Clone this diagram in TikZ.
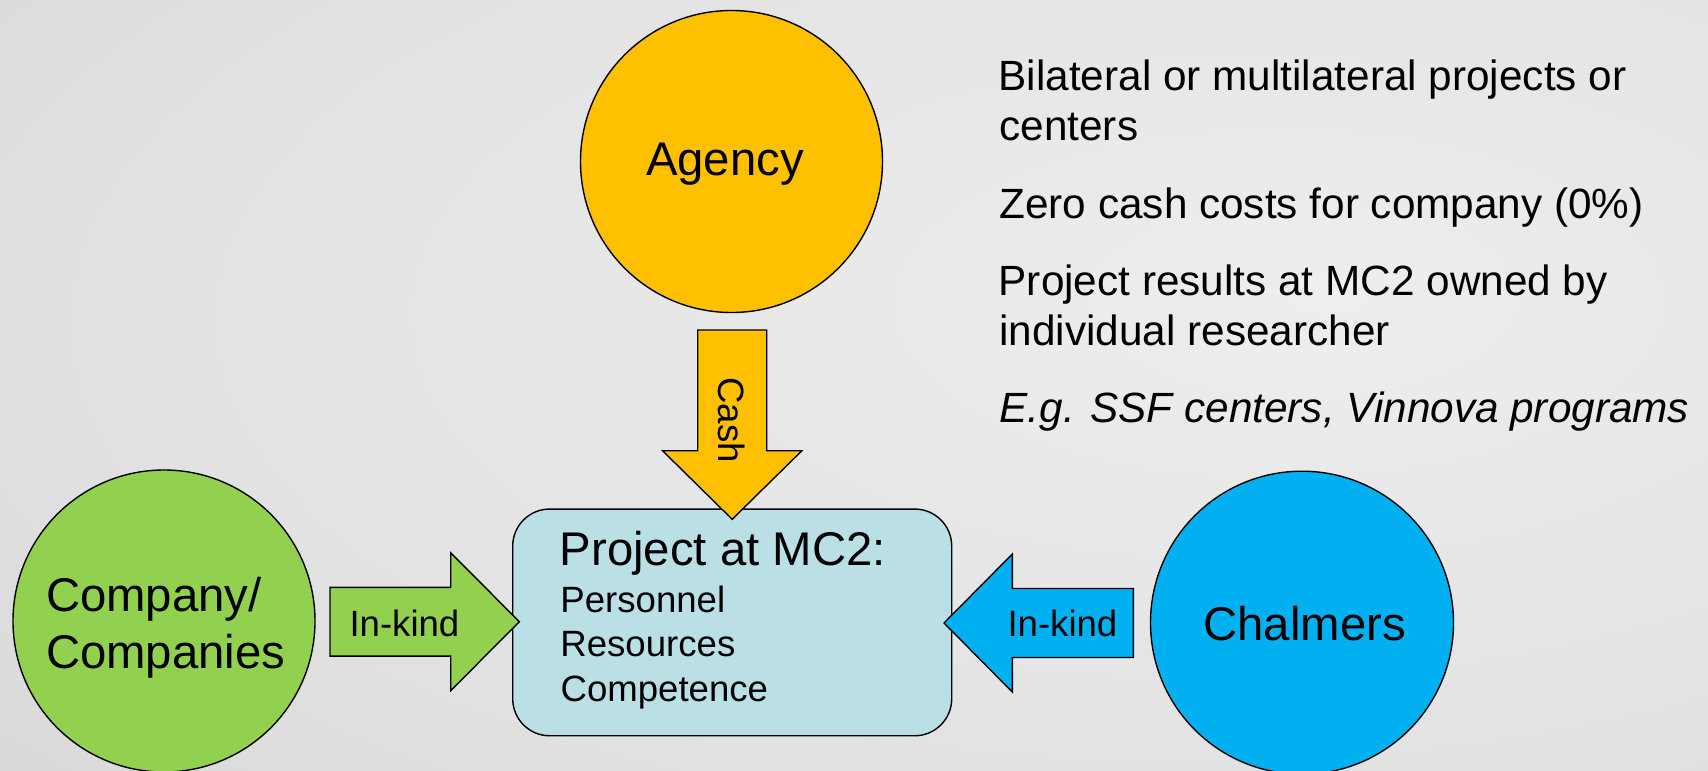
\documentclass[tikz,border=0pt]{standalone}
\usepackage{fontspec}
\setmainfont{Liberation Sans}
\definecolor{agencyc}{HTML}{FFC000}
\definecolor{companyc}{HTML}{92D050}
\definecolor{chalmersc}{HTML}{00B0F0}
\definecolor{boxc}{HTML}{BAE0E5}
\definecolor{bgin}{HTML}{EEEEEE}
\definecolor{bgmid}{HTML}{E2E2E2}
\definecolor{bgmid2}{HTML}{CECECE}
\definecolor{bgout}{HTML}{B6B6B6}
\pgfdeclareradialshading{bgshade}{\pgfpoint{14bp}{6bp}}{color(0bp)=(bgin); color(30bp)=(bgmid); color(62bp)=(bgmid2); color(100bp)=(bgout)}
\tikzset{
  blk/.style={draw=black, line width=1.4pt, line join=miter},
  circ/.style={circle, draw=black, line width=1.4pt, minimum size=302pt, inner sep=0pt},
  lbl/.style={inner sep=0pt, outer sep=0pt, anchor=base west, text=black},
  big/.style={font=\fontsize{47.3}{56}\selectfont},
  small/.style={font=\fontsize{36.6}{44}\selectfont},
  side/.style={font=\fontsize{42.3}{50}\selectfont},
}
\begin{document}
\begin{tikzpicture}[x=1pt,y=-1pt]
\useasboundingbox (0,0) rectangle (1708,771);
\fill[bgout] (0,0) rectangle (1708,771);
\shade[shading=bgshade] (0,0) rectangle (1708,771);

% shapes
\node[circ, fill=agencyc] (agency) at (731.5,161.5) {};
\node[circ, fill=companyc] (company) at (164,621) {};
\node[circ, fill=chalmersc, minimum size=303pt] (chalmers) at (1302,622.7) {};
\node[draw=black, line width=1.4pt, fill=boxc, rounded corners=37pt,
      minimum width=439pt, minimum height=226.7pt, inner sep=0pt] (proj) at (732.2,622.4) {};

% block arrows
\draw[blk, fill=agencyc] (697.7,330) -- (766.7,330) -- (766.7,450.7) -- (801.9,450.7)
  -- (732.2,519.3) -- (662.5,450.7) -- (697.7,450.7) -- cycle;
\draw[blk, fill=companyc] (330,587.3) -- (450.7,587.3) -- (450.7,552.7) -- (519.3,621.7)
  -- (450.7,690.7) -- (450.7,656.1) -- (330,656.1) -- cycle;
\draw[blk, fill=chalmersc] (1133.3,588.5) -- (1012.3,588.5) -- (1012.3,554) -- (944,623)
  -- (1012.3,692) -- (1012.3,657.5) -- (1133.3,657.5) -- cycle;

% labels
\node[lbl, big] (agencyT) at (646,175) {Agency};
\node[lbl, big] (companyT1) at (46,611.7) {Company/};
\node[lbl, big] (companyT2) at (46,668.3) {Companies};
\node[lbl, big] (chalmersT) at (1203.4,640) {Chalmers};
\node[inner sep=0pt, small, rotate=-90] (cashT) at (731.9,420) {Cash};
\node[lbl, small] (inkindL) at (349.5,636.7) {In-kind};
\node[lbl, small] (inkindR) at (1007.5,636.7) {In-kind};
\node[lbl, big] (projT) at (559.8,565.7) {Project at MC2:};
\node[lbl, small] (projA) at (560.4,612.3) {Personnel};
\node[lbl, small] (projB) at (560.4,656.7) {Resources};
\node[lbl, small] (projC) at (560.6,701) {Competence};

% side text
\node[lbl, side] (s1a) at (998.7,90) {Bilateral or multilateral projects or};
\node[lbl, side] (s1b) at (999.5,140) {centers};
\node[lbl, side] (s2) at (999.5,218.3) {Zero cash costs for company (0\%)};
\node[lbl, side] (s3a) at (998.7,295) {Project results at MC2 owned by};
\node[lbl, side] (s3b) at (999.5,345) {individual researcher};
\node[lbl, side, font=\fontsize{42.3}{50}\selectfont\itshape] (s4) at (999.5,422.7) {E.g. SSF centers, Vinnova programs};
\end{tikzpicture}
\end{document}
